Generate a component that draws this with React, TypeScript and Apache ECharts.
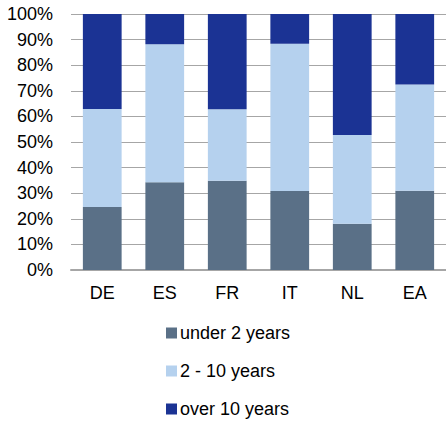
import React, { useEffect, useRef } from "react";
import * as echarts from "echarts";

const categories = ["DE", "ES", "FR", "IT", "NL", "EA"];
const under2 = [24.6, 34.3, 34.9, 30.9, 18.1, 31.0];
const twoTo10 = [38.3, 53.9, 27.9, 57.5, 34.6, 41.5];
const over10 = [37.1, 11.8, 37.2, 11.6, 47.3, 27.5];
const seriesNames = ["under 2 years", "2 - 10 years", "over 10 years"];
const colors = ["#5a7087", "#b5d1ee", "#1b3394"];

export default function App() {
  const ref = useRef<HTMLDivElement>(null);
  useEffect(() => {
    document.body.style.margin = "0";
    const chart = echarts.init(ref.current!, null, { renderer: "svg" });
    const font = "'Liberation Sans', Arial, sans-serif";
    const data = [under2, twoTo10, over10];
    chart.setOption({
      animation: false,
      textStyle: { fontFamily: font },
      grid: { left: 71, right: -3, top: 14, bottom: 153 },
      legend: {
        orient: "vertical",
        left: 161,
        top: 319,
        height: 200,
        itemWidth: 11,
        itemHeight: 11,
        itemGap: 20,
        icon: "rect",
        textStyle: { fontSize: 18, color: "#000", fontFamily: font, padding: [0, 0, 0, -2] },
        data: seriesNames,
      },
      xAxis: {
        type: "category",
        data: categories,
        axisTick: { show: false },
        axisLine: { lineStyle: { color: "#a6a6a6", width: 2 } },
        axisLabel: { fontSize: 18, color: "#000", margin: 14, fontFamily: font },
      },
      yAxis: {
        type: "value",
        min: 0,
        max: 100,
        interval: 10,
        axisLabel: { formatter: "{value}%", fontSize: 18, color: "#000", margin: 18, fontFamily: font },
        splitLine: { lineStyle: { color: "#a6a6a6", width: 1 } },
        axisLine: { show: false },
        axisTick: { show: false },
      },
      series: seriesNames.map((name, i) => ({
        name,
        type: "bar",
        stack: "total",
        data: data[i],
        barCategoryGap: "38%",
        itemStyle: { color: colors[i] },
      })),
    });
    return () => chart.dispose();
  }, []);
  return <div ref={ref} style={{ width: 446, height: 423 }} />;
}
